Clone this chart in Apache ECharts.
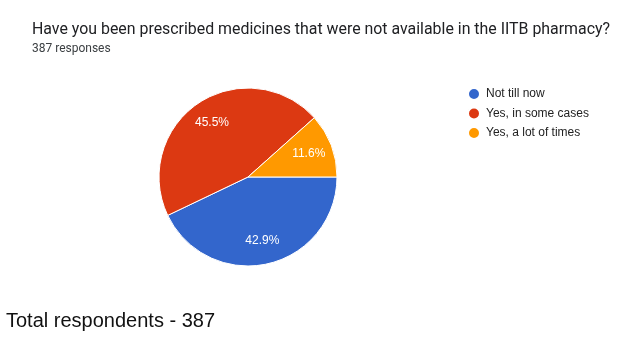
<!DOCTYPE html>
<html><head><meta charset="utf-8">
<script src="https://cdn.jsdelivr.net/npm/echarts@6/dist/echarts.min.js"></script>
<style>html,body{margin:0;padding:0;background:#fff}#c{width:640px;height:342px}</style>
</head><body><div id="c"></div>
<script>
const categories = ['Not till now', 'Yes, in some cases', 'Yes, a lot of times'];
const values = [42.9, 45.5, 11.6];
const colors = ['#3366cc', '#dc3912', '#ff9900'];
const titleText = 'Have you been prescribed medicines that were not available in the IITB pharmacy?';
const subtitleText = '387 responses';
const footerText = 'Total respondents - 387';

const data = categories.map((n, i) => ({ name: n, value: values[i], itemStyle: { color: colors[i] } }));
const chart = echarts.init(document.getElementById('c'));
chart.setOption({
  animation: false,
  title: [
    { text: titleText, left: 32, top: 22, padding: 0, textStyle: { fontFamily: 'Roboto', fontSize: 15.9, fontWeight: 'normal', color: '#202124' } },
    { text: subtitleText, left: 32, top: 43, padding: 0, textStyle: { fontFamily: 'Roboto', fontSize: 12, fontWeight: 'normal', color: '#3c4043' } },
    { text: footerText, left: 6, top: 311, padding: 0, textStyle: { fontFamily: 'Liberation Sans', fontSize: 20, fontWeight: 'normal', color: '#111' } }
  ],
  legend: {
    orient: 'vertical', left: 467, top: 87, padding: 0, itemWidth: 12, itemHeight: 12, itemGap: 5.5,
    icon: 'circle', data: categories,
    textStyle: { fontFamily: 'Liberation Sans', fontSize: 12, color: '#222', padding: [0, 0, 0, 1] }
  },
  series: [
    {
      type: 'pie', center: [248, 177], radius: [0, 89], startAngle: 0, clockwise: true,
      data: data, label: { show: false }, labelLine: { show: false },
      itemStyle: { borderColor: '#fff', borderWidth: 1 }, emphasis: { disabled: true }
    },
    {
      type: 'pie', center: [248, 177], radius: [0, 124], startAngle: 0, clockwise: true, silent: true,
      data: data.map(d => ({ name: d.name, value: d.value })),
      itemStyle: { color: 'rgba(0,0,0,0)' },
      label: { show: true, position: 'inside', formatter: '{c}%', color: '#fff', fontFamily: 'Liberation Sans', fontSize: 12 },
      labelLine: { show: false }, emphasis: { disabled: true }
    }
  ]
});
</script></body></html>
